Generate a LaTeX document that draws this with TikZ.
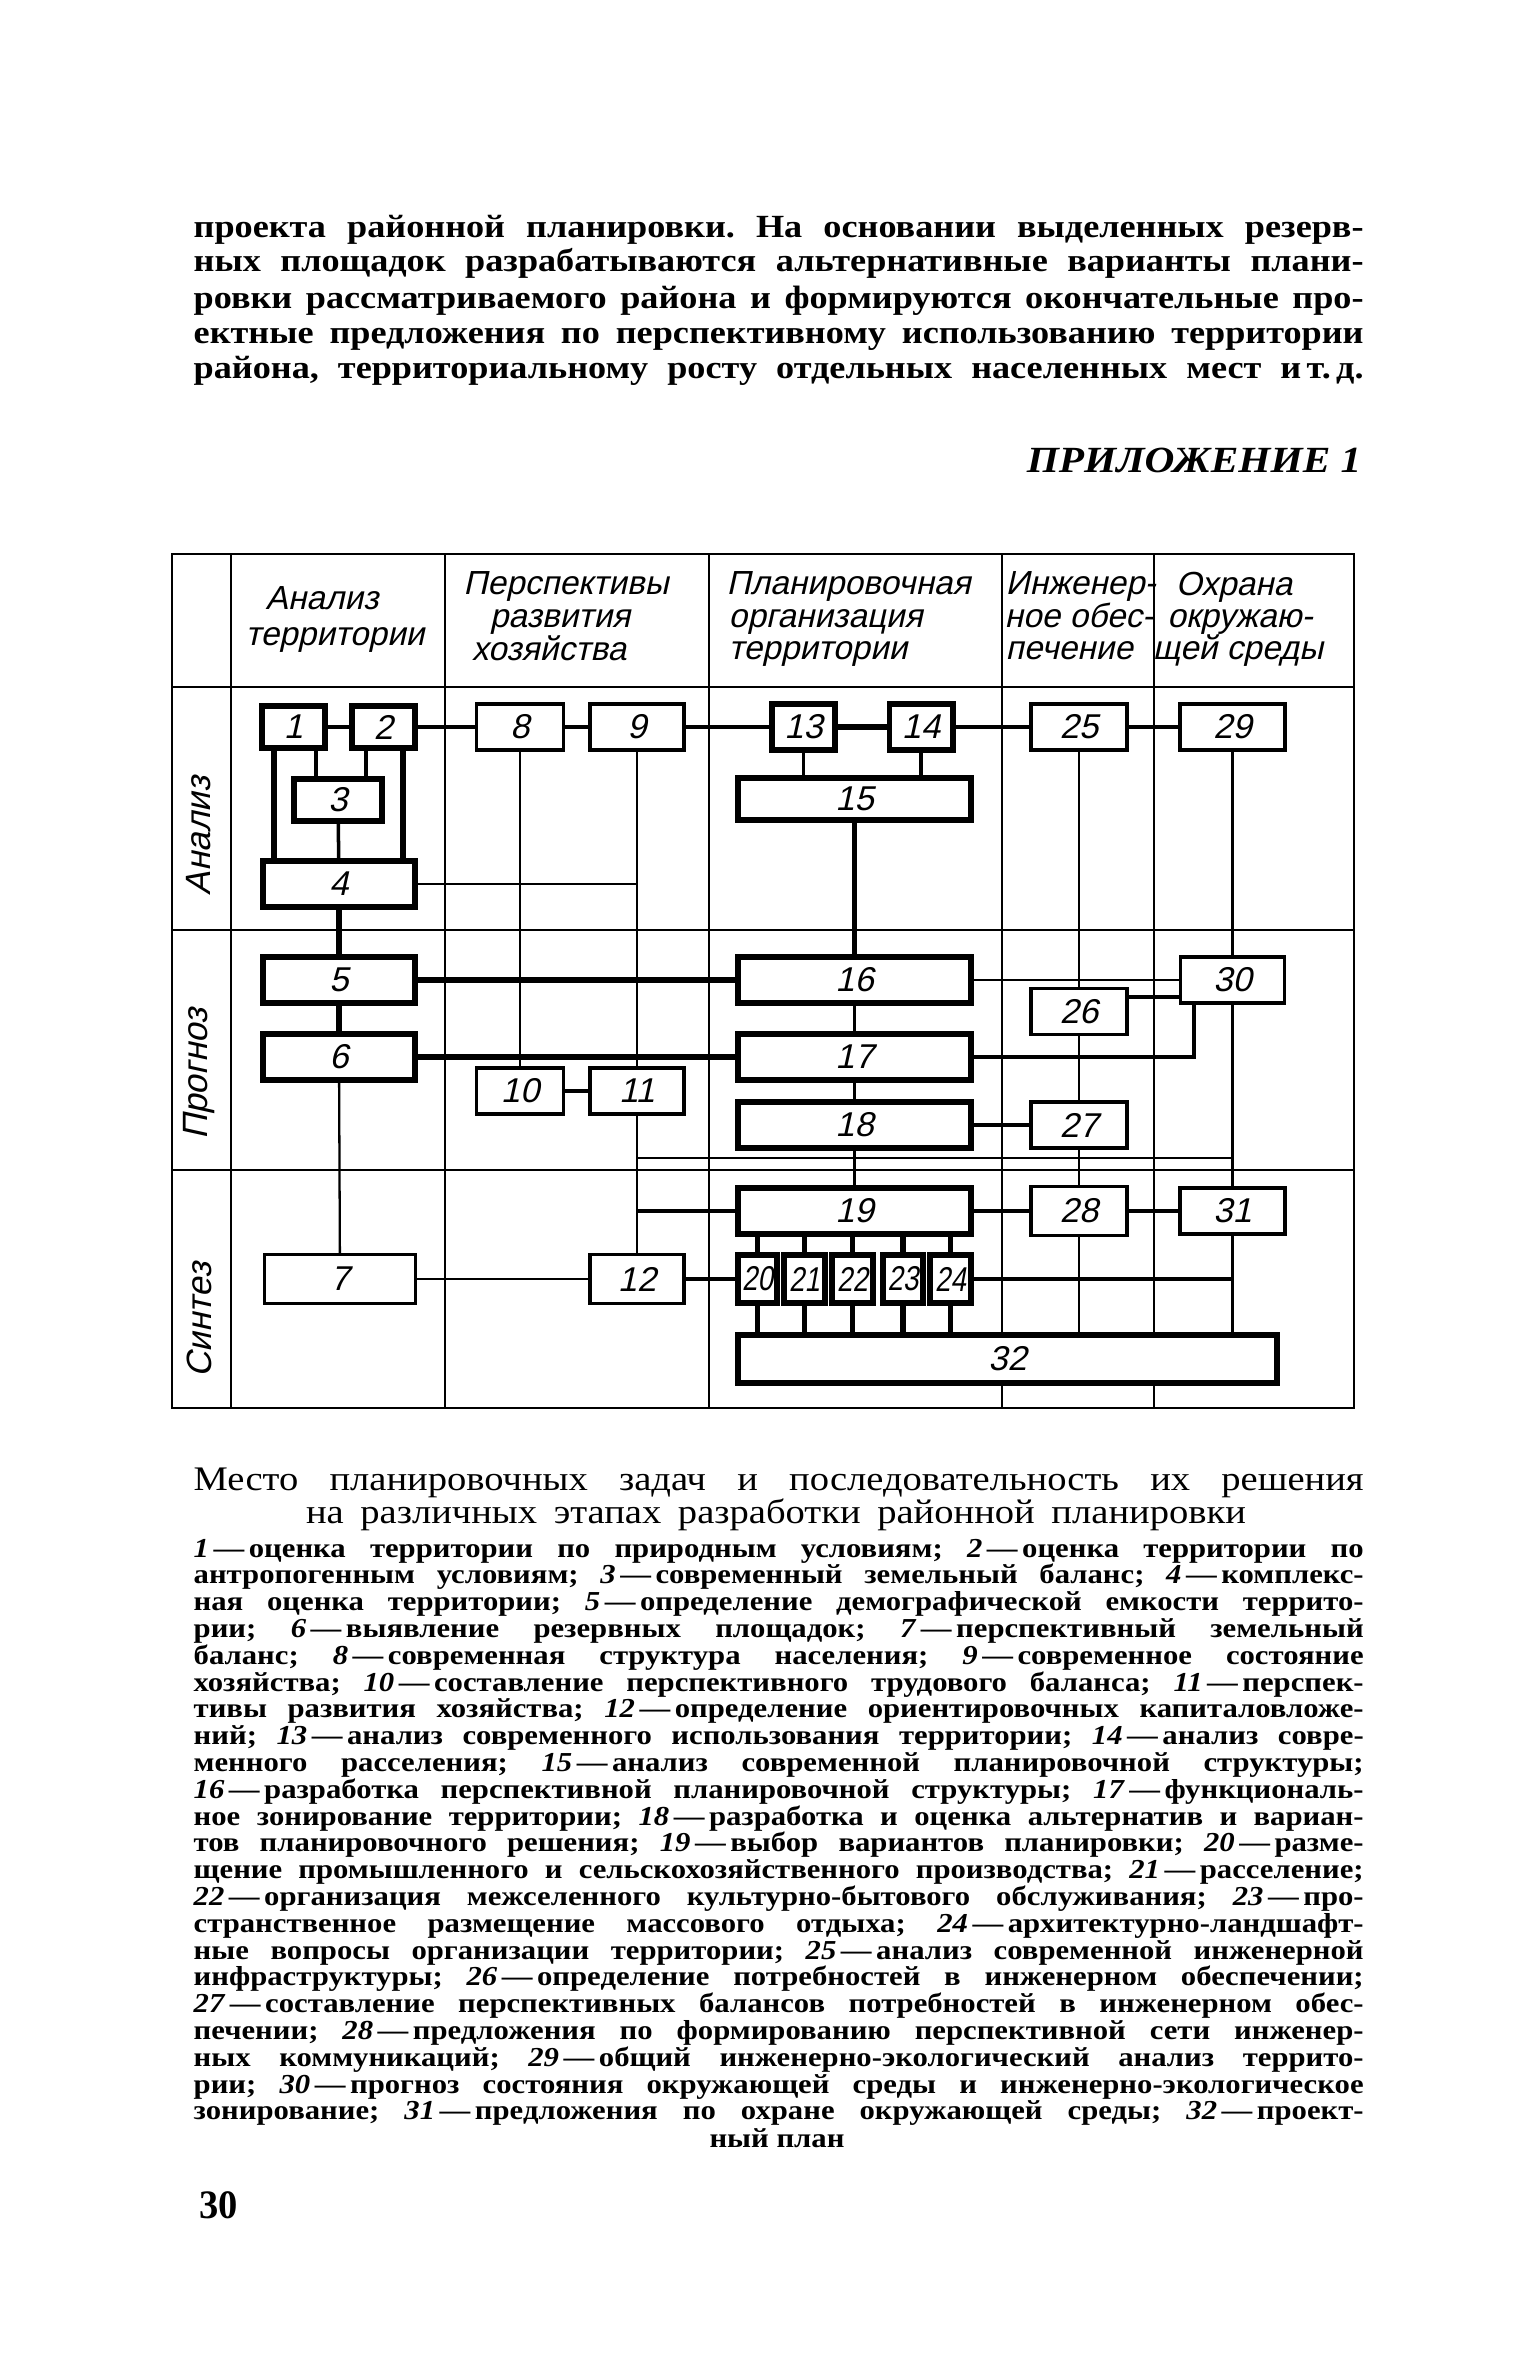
\documentclass[tikz,border=0pt]{standalone}
\usepackage{fontspec}
\setmainfont{Liberation Serif}[FakeStretch=1.12]
\newfontfamily\draftfont{Liberation Sans}[FakeSlant=0.22]
\frenchspacing

\tikzset{
  gridl/.style={line width=0.65pt},
  wire/.style={line width=0.65pt},
  wirem/.style={line width=1pt},
  wirek/.style={line width=1.5pt},
  tbox/.style={draw, line width=1pt, fill=white, inner sep=0pt,
    minimum height=4.6mm, font=\draftfont\fontsize{9.8}{10}\selectfont},
  tboxk/.style={tbox, line width=1.7pt},
  hdr/.style={inner sep=0pt, font=\draftfont\fontsize{9.5}{11}\selectfont},
  rowlbl/.style={inner sep=0pt, rotate=90, font=\draftfont\fontsize{10}{11}\selectfont},
  para/.style={inner sep=0pt, anchor=base west, font=\bfseries\fontsize{9.2}{11}\selectfont},
  lgd/.style={inner sep=0pt, anchor=base west, font=\bfseries\fontsize{7.8}{8}\selectfont},
  capt/.style={inner sep=0pt, font=\fontsize{9.8}{11}\selectfont},
}
\newcommand{\sq}[1]{\scalebox{0.8}[1]{#1}}

\begin{document}
\begin{tikzpicture}[x=0.1mm,y=-0.1mm]
  \useasboundingbox (0,0) rectangle (1535,2362);

  % text above the table
  \node[para] (p1) at (193,237) {\makebox[117mm][s]{проекта районной планировки. На основании выделенных резерв-}};
  \node[para] (p2) at (193,272) {\makebox[117mm][s]{ных площадок разрабатываются альтернативные варианты плани-}};
  \node[para] (p3) at (193,308) {\makebox[117mm][s]{ровки рассматриваемого района и формируются окончательные про-}};
  \node[para] (p4) at (193,343) {\makebox[117mm][s]{ектные предложения по перспективному использованию территории}};
  \node[para] (p5) at (193,378) {\makebox[117mm][s]{района, территориальному росту отдельных населенных мест и\,т.\,д.}};
  \node[inner sep=0pt, anchor=base east, font=\bfseries\itshape\fontsize{10.5}{12}\selectfont] (app) at (1362,472) {ПРИЛОЖЕНИЕ 1};

  % table grid
  \draw[gridl] (172,554) rectangle (1354,1408);
  \foreach \x in {231,445,709,1002,1154}
    \draw[gridl] (\x,554) -- (\x,1408);
  \foreach \y in {687,930,1170}
    \draw[gridl] (172,\y) -- (1354,\y);

  % column heads
  \node[hdr, anchor=base] (hA1) at (322,609) {Анализ};
  \node[hdr, anchor=base] (hA2) at (335,645) {территории};
  \node[hdr, anchor=base] (hB1) at (566,594) {Перспективы};
  \node[hdr, anchor=base] (hB2) at (560,627) {развития};
  \node[hdr, anchor=base] (hB3) at (549,660) {хозяйства};
  \node[hdr, anchor=base west] (hC1) at (726,594) {Планировочная};
  \node[hdr, anchor=base west] (hC2) at (728,627) {организация};
  \node[hdr, anchor=base west] (hC3) at (728,659) {территории};
  \node[hdr, anchor=base west] (hD1) at (1005,594) {Инженер-};
  \node[hdr, anchor=base west] (hD2) at (1004,627) {ное обес-};
  \node[hdr, anchor=base west] (hD3) at (1005,659) {печение};
  \node[hdr, anchor=base] (hE1) at (1234,595) {Охрана};
  \node[hdr, anchor=base] (hE2) at (1240,627) {окружаю-};
  \node[hdr, anchor=base] (hE3) at (1238,659) {щей среды};

  % row heads
  \node[rowlbl] (rA) at (199,836) {Анализ};
  \node[rowlbl] (rP) at (199,1074) {Прогноз};
  \node[rowlbl] (rS) at (199,1320) {Синтез};

  % tasks
  \node[tboxk, minimum width=6.3mm, minimum height=4.2mm] (b1) at (293.5,727) {1};
  \node[tboxk, minimum width=6.3mm, minimum height=4.2mm] (b2) at (383.5,727) {2};
  \node[tboxk, minimum width=8.8mm, minimum height=4.2mm] (b3) at (338,800) {3};
  \node[tboxk, minimum width=15.2mm] (b4) at (339,884) {4};
  \node[tboxk, minimum width=15.2mm] (b5) at (339,980) {5};
  \node[tboxk, minimum width=15.2mm] (b6) at (339,1057) {6};
  \node[tbox, minimum width=15.1mm, minimum height=4.9mm] (b7) at (340,1279) {7};
  \node[tbox, minimum width=8.7mm] (b8) at (520,727) {8};
  \node[tbox, minimum width=9.4mm] (b9) at (637,727) {9};
  \node[tbox, minimum width=8.7mm] (b10) at (520,1091) {10};
  \node[tbox, minimum width=9.4mm] (b11) at (637,1091) {11};
  \node[tbox, minimum width=9.4mm, minimum height=4.9mm] (b12) at (637,1279) {12};
  \node[tboxk, minimum width=6.3mm] (b13) at (803.5,727) {13};
  \node[tboxk, minimum width=6.3mm] (b14) at (921,727) {14};
  \node[tboxk, minimum width=23.3mm, minimum height=4.2mm] (b15) at (854.5,799) {15};
  \node[tboxk, minimum width=23.3mm] (b16) at (854.5,980) {16};
  \node[tboxk, minimum width=23.3mm] (b17) at (854.5,1057) {17};
  \node[tboxk, minimum width=23.3mm] (b18) at (854.5,1125) {18};
  \node[tboxk, minimum width=23.3mm] (b19) at (854.5,1211) {19};
  \node[tboxk, minimum width=3.9mm, minimum height=4.8mm] (b20) at (757.5,1279) {\sq{20}};
  \node[tboxk, minimum width=4.1mm, minimum height=4.8mm] (b21) at (804.5,1279) {\sq{21}};
  \node[tboxk, minimum width=4.1mm, minimum height=4.8mm] (b22) at (852.5,1279) {\sq{22}};
  \node[tboxk, minimum width=4.0mm, minimum height=4.8mm] (b23) at (903,1279) {\sq{23}};
  \node[tboxk, minimum width=4.1mm, minimum height=4.8mm] (b24) at (950.5,1279) {\sq{24}};
  \node[tbox, minimum width=9.6mm] (b25) at (1079,727) {25};
  \node[tbox, minimum width=9.6mm] (b26) at (1079,1011.5) {26};
  \node[tbox, minimum width=9.6mm] (b27) at (1079,1125) {27};
  \node[tbox, minimum width=9.6mm, minimum height=4.9mm] (b28) at (1079,1211) {28};
  \node[tbox, minimum width=10.5mm] (b29) at (1232.5,727) {29};
  \node[tbox, minimum width=10.4mm] (b30) at (1232.5,980) {30};
  \node[tbox, minimum width=10.5mm] (b31) at (1232.5,1211) {31};
  \node[tboxk, minimum width=53.9mm, minimum height=4.8mm] (b32) at (1007.5,1359) {32};
  \coordinate (bus) at (0,1158);

  % links
  \draw[wirem] (b1) -- (b2);
  \draw[wirem] (b2) -- (b8);
  \draw[wirem] (b8) -- (b9);
  \draw[wirem] (b9) -- (b13);
  \draw[wirek] (b13) -- (b14);
  \draw[wirem] (b14) -- (b25);
  \draw[wirem] (b25) -- (b29);
  \draw[wirek] ([xshift=1.5mm]b1.south west) -- ([xshift=1.5mm]b1.south west |- b4.north);
  \draw[wirem] ([xshift=-1.2mm]b1.south east) -- ([xshift=-1.2mm]b1.south east |- b3.north);
  \draw[wirem] ([xshift=1.7mm]b2.south west) -- ([xshift=1.7mm]b2.south west |- b3.north);
  \draw[wirek] ([xshift=-1.5mm]b2.south east) -- ([xshift=-1.5mm]b2.south east |- b4.north);
  \draw[wirem] (b3) -- (b4);
  \draw[wirek] (b4) -- (b5);
  \draw[wirek] (b5) -- (b6);
  \draw[wire] (b6) -- (b7);
  \draw[wire] (b4.east) -- (b4.east -| b9.south);
  \draw[wire] (b8) -- (b10);
  \draw[wire] (b9) -- (b11);
  \draw[wirem] (b10) -- (b11);
  \draw[wire] (b11) -- (b12);
  \draw[wire] (b11.south |- bus) -- (b31.north |- bus);
  \draw[wirem] (b11.south |- b19.west) -- (b19.west);
  \draw[wire] (b7) -- (b12);
  \draw[wirem] (b12) -- (b20);
  \draw[wirek] (b5) -- (b16);
  \draw[wirek] (b6) -- (b17);
  \draw[wirem] (b13.south) -- (b13.south |- b15.north);
  \draw[wirem] (b14.south) -- (b14.south |- b15.north);
  \draw[wirek] (b15) -- (b16);
  \draw[wirem] (b16) -- (b17);
  \draw[wirem] (b17) -- (b18);
  \draw[wirem] (b18) -- (b19);
  \draw[wire] (b16) -- (b30);
  \draw[wire] (b25) -- (b26);
  \draw[wire] (b26) -- (b27);
  \draw[wire] (b27) -- (b28);
  \draw[wire] (b28.south) -- (b28.south |- b32.north);
  \draw[wire] (b29) -- (b30);
  \draw[wirem] ([yshift=-1mm]b26.north east) -- ([yshift=-1mm]b26.north east -| b30.west);
  \draw[wirem] (b17.east) -| ([xshift=1.5mm]b30.south west);
  \draw[wire] (b30) -- (b31);
  \draw[wire] (b31.south) -- (b31.south |- b32.north);
  \draw[wirem] (b18) -- (b27);
  \draw[wirem] (b19) -- (b28);
  \draw[wirem] (b28) -- (b31);
  \foreach \i in {20,...,24} {
    \draw[wirek] (b\i.north) -- (b\i.north |- b19.south);
    \draw[wirek] (b\i.south) -- (b\i.south |- b32.north);
  }
  \draw[wirem] (b24.east) -- (b24.east -| b31.south);

  % caption
  \node[capt, anchor=base west] (c1) at (193,1490) {\makebox[117mm][s]{Место планировочных задач и последовательность их решения}};
  \node[capt, anchor=base] (c2) at (776,1523) {\makebox[94mm][s]{на различных этапах разработки районной планировки}};

  % key
  \foreach \t [count=\i from 0] in {
    {\textit{1}\,—\,оценка территории по природным условиям; \textit{2}\,—\,оценка территории по},
    {антропогенным условиям; \textit{3}\,—\,современный земельный баланс; \textit{4}\,—\,комплекс-},
    {ная оценка территории; \textit{5}\,—\,определение демографической емкости террито-},
    {рии; \textit{6}\,—\,выявление резервных площадок; \textit{7}\,—\,перспективный земельный},
    {баланс; \textit{8}\,—\,современная структура населения; \textit{9}\,—\,современное состояние},
    {хозяйства; \textit{10}\,—\,составление перспективного трудового баланса; \textit{11}\,—\,перспек-},
    {тивы развития хозяйства; \textit{12}\,—\,определение ориентировочных капиталовложе-},
    {ний; \textit{13}\,—\,анализ современного использования территории; \textit{14}\,—\,анализ совре-},
    {менного расселения; \textit{15}\,—\,анализ современной планировочной структуры;},
    {\textit{16}\,—\,разработка перспективной планировочной структуры; \textit{17}\,—\,функциональ-},
    {ное зонирование территории; \textit{18}\,—\,разработка и оценка альтернатив и вариан-},
    {тов планировочного решения; \textit{19}\,—\,выбор вариантов планировки; \textit{20}\,—\,разме-},
    {щение промышленного и сельскохозяйственного производства; \textit{21}\,—\,расселение;},
    {\textit{22}\,—\,организация межселенного культурно-бытового обслуживания; \textit{23}\,—\,про-},
    {странственное размещение массового отдыха; \textit{24}\,—\,архитектурно-ландшафт-},
    {ные вопросы организации территории; \textit{25}\,—\,анализ современной инженерной},
    {инфраструктуры; \textit{26}\,—\,определение потребностей в инженерном обеспечении;},
    {\textit{27}\,—\,составление перспективных балансов потребностей в инженерном обес-},
    {печении; \textit{28}\,—\,предложения по формированию перспективной сети инженер-},
    {ных коммуникаций; \textit{29}\,—\,общий инженерно-экологический анализ террито-},
    {рии; \textit{30}\,—\,прогноз состояния окружающей среды и инженерно-экологическое},
    {зонирование; \textit{31}\,—\,предложения по охране окружающей среды; \textit{32}\,—\,проект-}}
    \node[lgd] (k\i) at (193,1557+26.8*\i) {\makebox[117mm][s]{\t}};
  \node[lgd, anchor=base] (kend) at (777,2147) {ный план};

  % page number
  \node[inner sep=0pt, anchor=base west, font=\bfseries\fontsize{11.5}{12}\selectfont] (pg) at (199,2218) {\scalebox{0.85}[1]{30}};
\end{tikzpicture}
\end{document}
